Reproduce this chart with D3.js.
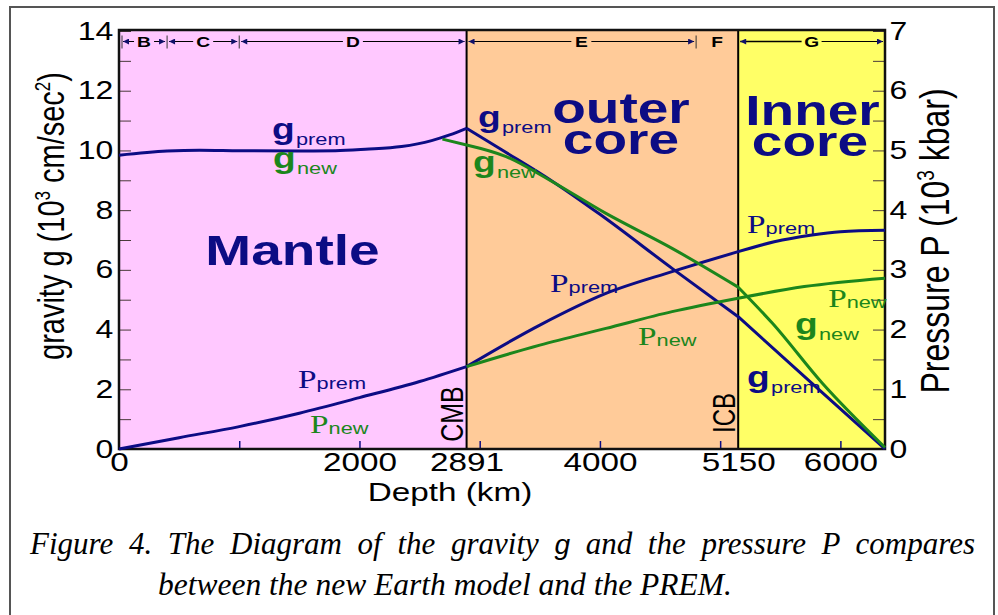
<!DOCTYPE html>
<html>
<head>
<meta charset="utf-8">
<script src="https://cdn.jsdelivr.net/npm/d3@7"></script>
<style>
    body { margin: 0; background: #fff; }
    svg text { font-family: "Liberation Sans", Arial, sans-serif; }
</style>
</head>
<body>
<svg id="chart" width="998" height="615"></svg>
<script>
    // gravity g (10^3 cm/sec^2) and pressure P (10^3 kbar) against depth (km)
    var depthGPrem = [0, 400, 670, 1000, 1500, 1800, 2050, 2350, 2600, 2750, 2891, 3200, 3600, 4000, 4600, 5150, 5750, 6371];
    var gPrem = [9.84, 9.98, 10.01, 9.99, 9.98, 9.99, 10.04, 10.13, 10.33, 10.52, 10.74, 9.98, 8.98, 7.86, 6.05, 4.43, 2.25, 0];

    var depthGNew = [2690, 2891, 3220, 3580, 4050, 4600, 5150, 5435, 5850, 6371];
    var gNew = [10.38, 10.18, 9.79, 9.01, 7.89, 6.72, 5.42, 4.21, 2.2, 0.05];

    var depthPPrem = [0, 500, 1000, 1500, 2000, 2500, 2891, 3500, 4050, 4600, 5150, 5450, 5750, 6000, 6371];
    var pPrem = [0, 0.19, 0.375, 0.6, 0.86, 1.13, 1.38, 2.075, 2.605, 2.97, 3.305, 3.47, 3.58, 3.64, 3.665];

    var depthPNew = [2891, 3500, 4050, 4600, 5150, 5700, 6371];
    var pNew = [1.38, 1.74, 2.02, 2.30, 2.525, 2.72, 2.86];

    var layerBounds = [0, 400, 1000, 2891, 4800, 5150, 6371];
    var layerNames = ['B', 'C', 'D', 'E', 'F', 'G'];

    var xTickLabels = [0, 2000, 2891, 4000, 5150, 6000];
    var xMinorTicks = [1000, 2000, 3000, 4000, 5000, 6000];
    var gTickLabels = [0, 2, 4, 6, 8, 10, 12, 14];
    var pTickLabels = [0, 1, 2, 3, 4, 5, 6, 7];

    var CMB = 2891, ICB = 5150, EARTH_R = 6371;

    var BLUE = '#0c0c84';
    var GREEN = '#1c861c';
    var SX = 1.28; // the figure is stretched sideways

    var svg = d3.select('#chart');

    var x = d3.scaleLinear().domain([0, EARTH_R]).range([119, 885]);
    var yG = d3.scaleLinear().domain([0, 14]).range([449, 31]);
    var yP = d3.scaleLinear().domain([0, 7]).range([449, 31]);

    function place(sel, px, py, rot) {
        sel.attr('transform', 'translate(' + px + ',' + py + ') scale(' + SX + ',1)' + (rot ? ' rotate(' + rot + ')' : ''));
        return sel;
    }

    // outer frame
    svg.append('rect')
        .attr('x', 10).attr('y', 7)
        .attr('width', 984).attr('height', 640)
        .attr('fill', 'none')
        .attr('stroke', '#555')
        .attr('stroke-width', 2);

    // zones
    var zones = [
        { from: 0, to: CMB, fill: '#ffc8ff' },
        { from: CMB, to: ICB, fill: '#ffcb99' },
        { from: ICB, to: EARTH_R, fill: '#ffff66' }
    ];
    svg.selectAll('.zone')
        .data(zones)
        .enter()
        .append('rect')
        .attr('class', 'zone')
        .attr('x', function(d) { return x(d.from); })
        .attr('y', yG(14) - 1)
        .attr('width', function(d) { return x(d.to) - x(d.from); })
        .attr('height', yG(0) - yG(14) + 1)
        .attr('fill', function(d) { return d.fill; });

    // ticks
    var gMinor = svg.append('g')
        .attr('transform', 'translate(' + x(0) + ',0)')
        .call(d3.axisLeft(yG).tickValues(d3.range(0, 15, 1)).tickSize(-12).tickFormat(''));
    var pMinor = svg.append('g')
        .attr('transform', 'translate(' + x(EARTH_R) + ',0)')
        .call(d3.axisRight(yP).tickValues(d3.range(0, 7.5, 0.5)).tickSize(-12).tickFormat(''));
    gMinor.selectAll('line').attr('stroke', '#4a3a3a');
    pMinor.selectAll('line').attr('stroke', '#4a3a3a');
    var xMinor = svg.append('g')
        .attr('transform', 'translate(0,' + yG(0) + ')')
        .call(d3.axisBottom(x).tickValues(xMinorTicks).tickSize(-8).tickFormat(''));
    xMinor.selectAll('line').attr('stroke', BLUE).attr('stroke-width', 1.5);
    svg.selectAll('.domain').remove();

    // boundary lines
    svg.selectAll('.bound')
        .data([CMB, ICB])
        .enter()
        .append('line')
        .attr('x1', function(d) { return x(d); })
        .attr('x2', function(d) { return x(d); })
        .attr('y1', yG(14) - 1)
        .attr('y2', yG(0))
        .attr('stroke', '#000')
        .attr('stroke-width', 2);

    // plot frame
    svg.append('rect')
        .attr('x', x(0)).attr('y', yG(14) - 1)
        .attr('width', x(EARTH_R) - x(0))
        .attr('height', yG(0) - yG(14) + 1)
        .attr('fill', 'none')
        .attr('stroke', '#111')
        .attr('stroke-width', 2.5);

    // tick labels
    var gAxis = svg.append('g')
        .attr('transform', 'translate(' + x(0) + ',0)')
        .call(d3.axisLeft(yG).tickValues(gTickLabels).tickSize(0).tickFormat(d3.format('d')));
    gAxis.selectAll('text')
        .attr('x', -4.5)
        .attr('transform', 'scale(' + SX + ',1)')
        .style('font-size', '25px')
        .attr('fill', '#000');

    var pAxis = svg.append('g')
        .attr('transform', 'translate(' + x(EARTH_R) + ',0)')
        .call(d3.axisRight(yP).tickValues(pTickLabels).tickSize(0).tickFormat(d3.format('d')));
    pAxis.selectAll('text')
        .attr('x', 3.5)
        .attr('transform', 'scale(' + SX + ',1)')
        .style('font-size', '25px')
        .attr('fill', '#000');

    var xAxis = svg.append('g')
        .attr('transform', 'translate(0,' + yG(0) + ')')
        .call(d3.axisBottom(x).tickValues(xTickLabels).tickSize(0).tickFormat(d3.format('d')));
    xAxis.selectAll('text')
        .attr('y', 4)
        .attr('transform', 'scale(' + SX + ',1)')
        .style('font-size', '26px')
        .attr('fill', '#000');
    svg.selectAll('.domain').remove();

    // axis titles
    place(svg.append('text'), 450, 501)
        .attr('text-anchor', 'middle')
        .style('font-size', '26px')
        .text('Depth (km)');

    var gTitle = place(svg.append('text'), 64, 216, -90)
        .attr('text-anchor', 'middle')
        .style('font-size', '29px');
    gTitle.append('tspan').text('gravity g (10');
    gTitle.append('tspan').attr('dy', -11).style('font-size', '17px').text('3');
    gTitle.append('tspan').attr('dy', 11).text(' cm/sec');
    gTitle.append('tspan').attr('dy', -11).style('font-size', '17px').text('2');
    gTitle.append('tspan').attr('dy', 11).text(')');

    var pTitle = place(svg.append('text'), 949, 241, -90)
        .attr('text-anchor', 'middle')
        .style('font-size', '32px');
    pTitle.append('tspan').text('Pressure P (10');
    pTitle.append('tspan').attr('dy', -12).style('font-size', '19px').text('3');
    pTitle.append('tspan').attr('dy', 12).text(' kbar)');

    place(svg.append('text'), x(CMB) - 4, 414, -90)
        .attr('text-anchor', 'middle')
        .style('font-size', '25px')
        .text('CMB');
    place(svg.append('text'), x(ICB) - 3, 413, -90)
        .attr('text-anchor', 'middle')
        .style('font-size', '24px')
        .text('ICB');

    // zone names, two-line ones kept in one text element
    var zoneNames = [
        { lines: ['Mantle'], depth: 1443, at: 6.16 },
        { lines: ['outer', 'core'], depth: 4175, at: 10.92 },
        { lines: ['Inner', 'core'], depth: 5768, at: 10.85 }
    ];
    var lineStep = yG(9.85) - yG(10.9);
    zoneNames.forEach(function(z) {
        var t = place(svg.append('text'), x(z.depth), yG(z.at))
            .attr('text-anchor', 'middle')
            .style('font-size', '43px')
            .style('font-weight', 'bold')
            .attr('fill', BLUE);
        z.lines.forEach(function(s, i) {
            t.append('tspan')
                .attr('x', i === 1 && z.lines[0] === 'Inner' ? -2 : 0)
                .attr('dy', i === 0 ? 0 : lineStep)
                .text(s);
        });
    });

    // layer arrows along the top
    svg.append('defs').append('marker')
        .attr('id', 'arr')
        .attr('viewBox', '0 0 10 10')
        .attr('refX', 10).attr('refY', 5)
        .attr('markerWidth', 9).attr('markerHeight', 6)
        .attr('markerUnits', 'userSpaceOnUse')
        .attr('orient', 'auto-start-reverse')
        .append('path')
        .attr('d', 'M0,0L10,5L0,10z')
        .attr('fill', '#10106a');

    var topY = 41.5;
    layerNames.forEach(function(name, i) {
        var x0 = x(layerBounds[i]) + (i === 0 ? 3 : 1);
        var x1 = x(layerBounds[i + 1]) - 1;
        var mid = (x0 + x1) / 2;
        place(svg.append('text'), mid, topY + 5.5)
            .attr('text-anchor', 'middle')
            .style('font-size', '15px')
            .style('font-weight', 'bold')
            .text(name);
        if (name === 'F') return;
        svg.append('line')
            .attr('x1', mid - 10).attr('x2', x0 + 1)
            .attr('y1', topY).attr('y2', topY)
            .attr('stroke', '#000').attr('stroke-width', name === 'G' ? 1.6 : 1)
            .attr('marker-end', 'url(#arr)');
        svg.append('line')
            .attr('x1', mid + 10).attr('x2', x1 - 1)
            .attr('y1', topY).attr('y2', topY)
            .attr('stroke', '#000').attr('stroke-width', 1)
            .attr('marker-end', 'url(#arr)');
    });
    [0, 400, 1000, 4800].forEach(function(b) {
        var bx = x(b) + (b === 0 ? 3 : 0);
        svg.append('line')
            .attr('x1', bx).attr('x2', bx)
            .attr('y1', topY - 6).attr('y2', topY + 7)
            .attr('stroke', '#333').attr('stroke-width', 1);
    });

    // curves, smoothed within each zone so the kinks stay at CMB and ICB
    function segments(depths, vals, scale) {
        var cuts = [0, CMB, ICB, EARTH_R];
        var out = [];
        for (var k = 0; k < 3; k++) {
            var pts = [];
            depths.forEach(function(d, i) {
                if (d >= cuts[k] && d <= cuts[k + 1]) pts.push([x(d), scale(vals[i])]);
            });
            if (pts.length > 1) out.push(pts);
        }
        return out;
    }
    var line = d3.line().curve(d3.curveMonotoneX);
    var curves = [
        { segs: segments(depthGPrem, gPrem, yG), color: BLUE },
        { segs: segments(depthPPrem, pPrem, yP), color: BLUE },
        { segs: segments(depthGNew, gNew, yG), color: GREEN },
        { segs: segments(depthPNew, pNew, yP), color: GREEN }
    ];
    curves.forEach(function(c) {
        svg.append('path')
            .attr('d', c.segs.map(function(s) { return line(s); }).join(''))
            .attr('fill', 'none')
            .attr('stroke', c.color)
            .attr('stroke-width', 3)
            .attr('stroke-linejoin', 'round');
    });

    // curve labels (positions in depth / g-axis units)
    var curveLabels = [
        { main: 'g', sub: 'prem', color: BLUE, depth: 1273, at: 10.38 },
        { main: 'g', sub: 'new', color: GREEN, depth: 1281, at: 9.41 },
        { main: 'P', sub: 'prem', color: BLUE, depth: 1489, at: 2.04 },
        { main: 'P', sub: 'new', color: GREEN, depth: 1589, at: 0.54 },
        { main: 'g', sub: 'prem', color: BLUE, depth: 2986, at: 10.79 },
        { main: 'g', sub: 'new', color: GREEN, depth: 2944, at: 9.28 },
        { main: 'P', sub: 'prem', color: BLUE, depth: 3585, at: 5.26 },
        { main: 'P', sub: 'new', color: GREEN, depth: 4317, at: 3.48 },
        { main: 'P', sub: 'prem', color: BLUE, depth: 5224, at: 7.23 },
        { main: 'P', sub: 'new', color: GREEN, depth: 5898, at: 4.76 },
        { main: 'g', sub: 'new', color: GREEN, depth: 5623, at: 3.85 },
        { main: 'g', sub: 'prem', color: BLUE, depth: 5224, at: 2.08 }
    ];
    curveLabels.forEach(function(c) {
        var t = place(svg.append('text'), x(c.depth), yG(c.at)).attr('fill', c.color);
        if (c.main === 'g') {
            t.append('tspan').style('font-size', '29px').style('font-weight', 'bold').text('g');
            t.append('tspan').attr('dx', 1).attr('dy', 6).style('font-size', '17px').text(c.sub);
        } else {
            t.append('tspan').style('font-family', '"Liberation Serif", "Times New Roman", serif')
                .style('font-size', '26px').text('P');
            t.append('tspan').attr('dy', 1).style('font-size', '17px').text(c.sub);
        }
    });

    // caption
    var serif = '"Liberation Serif", "Times New Roman", serif';
    var cap1 = svg.append('text')
        .attr('x', 30).attr('y', 554)
        .style('font-family', serif)
        .style('font-style', 'italic')
        .style('font-size', '31px');
    cap1.append('tspan').text('Figure 4. The Diagram of the gravity ');
    cap1.append('tspan').style('font-family', '"Liberation Sans", Arial, sans-serif').style('font-size', '28px').text('g');
    cap1.append('tspan').text(' and the pressure P compares');
    var natural = cap1.node().getComputedTextLength();
    cap1.style('word-spacing', Math.max(0, (945 - natural) / 12) + 'px');

    svg.append('text')
        .attr('x', 158).attr('y', 595)
        .style('font-family', serif)
        .style('font-style', 'italic')
        .style('font-size', '31.5px')
        .text('between the new Earth model and the PREM.');
</script>
</body>
</html>
